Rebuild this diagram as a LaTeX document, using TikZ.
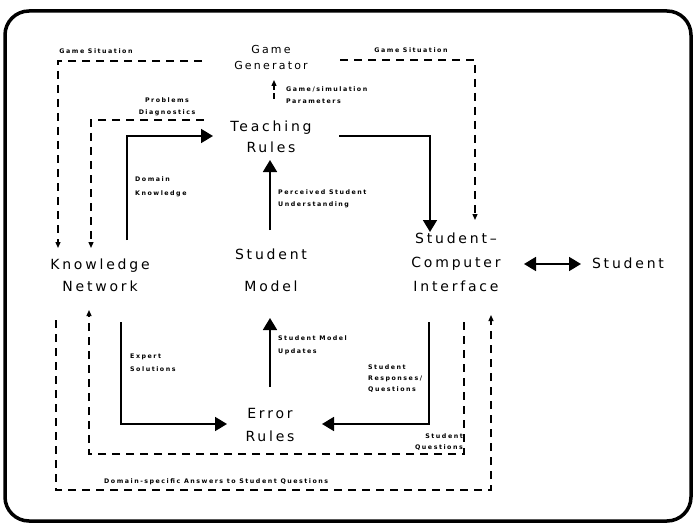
\documentclass[tikz,border=0pt]{standalone}
\usepackage{fontspec}
\setmainfont{DejaVu Sans}
\newfontfamily\unitfont[LetterSpace=20]{DejaVu Sans}
\newfontfamily\tagfont[LetterSpace=24]{DejaVu Sans Bold}
\usetikzlibrary{arrows.meta}
\tikzset{
  unit/.style={font=\unitfont\fontsize{14}{#1}\selectfont, align=center, inner sep=0pt},
  unit/.default=22,
  tag/.style={font=\tagfont\fontsize{6.3}{#1}\selectfont, align=left, inner sep=0pt},
  tag/.default=12,
  flow/.style={line width=1.8pt, -{Triangle[length=12pt,width=14pt]}},
  both/.style={line width=1.8pt, {Triangle[length=12pt,width=14pt]}-{Triangle[length=12pt,width=14pt]}},
  link/.style={line width=1.3pt, dash pattern=on 8pt off 6pt, -{Triangle[length=6pt,width=5pt]}},
  frame/.style={line width=3.5pt, rounded corners=24pt},
}
\begin{document}
\begin{tikzpicture}[x=1pt,y=-1pt]
\useasboundingbox (0,0) rectangle (697,527);
\fill[white] (0,0) rectangle (697,527);
\draw[frame] (5,11) rectangle (691,521);

% components
\node[unit=16, font=\unitfont\fontsize{11}{16}\selectfont] (gg) at (271,57) {Game\\Generator};
\node[unit=21] (tr) at (271,137) {Teaching\\Rules};
\node[unit=32] (sm) at (271,270) {Student\\Model};
\node[unit=22] (kn) at (100,275) {Knowledge\\Network};
\node[unit=24] (sci) at (456,262) {Student–\\Computer\\Interface};
\node[unit] (st) at (628,263) {Student};
\node[unit=23] (er) at (270,425) {Error\\Rules};

% connector end points
\coordinate (ggL) at (202,61);
\coordinate (knL) at (58,248);
\coordinate (ggR) at (340,60);
\coordinate (sciR) at (475,220);
\coordinate (trT) at (274,99);
\coordinate (ggB) at (274,80);
\coordinate (pdS) at (204,120);
\coordinate (knM) at (91,248);
\coordinate (dkS) at (127,240);
\coordinate (trW) at (213,136);
\coordinate (trE) at (339,136);
\coordinate (sciN) at (430,232);
\coordinate (smN) at (270,230);
\coordinate (trS) at (270,160);
\coordinate (sciE) at (524,264);
\coordinate (stW) at (581,264);
\coordinate (knS) at (121,322);
\coordinate (erW) at (227,424);
\coordinate (erN) at (270,387);
\coordinate (smS) at (270,318);
\coordinate (sciS) at (429,322);
\coordinate (erE) at (322,424);
\coordinate (sqS) at (464,322);
\coordinate (sqC) at (464,454);
\coordinate (sqD) at (89,454);
\coordinate (knB) at (89,310);
\coordinate (daS) at (56,320);
\coordinate (daC) at (56,490);
\coordinate (daD) at (491,490);
\coordinate (sciB) at (491,315);

% connectors
\draw[link] (ggL) -| (knL);
\draw[link] (ggR) -| (sciR);
\draw[link, dash pattern=on 6pt off 3pt] (trT) -- (ggB);
\draw[link] (pdS) -| (knM);
\draw[flow] (dkS) |- (trW);
\draw[flow] (trE) -| (sciN);
\draw[flow] (smN) -- (trS);
\draw[both] (sciE) -- (stW);
\draw[flow] (knS) |- (erW);
\draw[flow] (erN) -- (smS);
\draw[flow] (sciS) |- (erE);
\draw[link] (sqS) -- (sqC) -- (sqD) -- (knB);
\draw[link] (daS) -- (daC) -- (daD) -- (sciB);

% connector labels
\node[tag] (t1) at (96,51) {Game Situation};
\node[tag] (t2) at (411,50) {Game Situation};
\node[tag, anchor=west] (t3) at (286,95.5) {Game/simulation\\Parameters};
\node[tag, align=center] (t4) at (167,107) {Problems\\Diagnostics};
\node[tag=14, anchor=west] (t5) at (135,187) {Domain\\Knowledge};
\node[tag, anchor=west] (t6) at (278,199) {Perceived Student\\Understanding};
\node[tag=13, anchor=west] (t7) at (130,362.5) {Expert\\Solutions};
\node[tag=13, anchor=west] (t8) at (278,345.5) {Student Model\\Updates};
\node[tag=11, anchor=west] (t9) at (368,379) {Student\\Responses/\\Questions};
\node[tag=11, anchor=east, align=right] (t10) at (463,442.5) {Student\\Questions};
\node[tag, anchor=west] (t11) at (104,482) {Domain-specific Answers to Student Questions};
\end{tikzpicture}
\end{document}
